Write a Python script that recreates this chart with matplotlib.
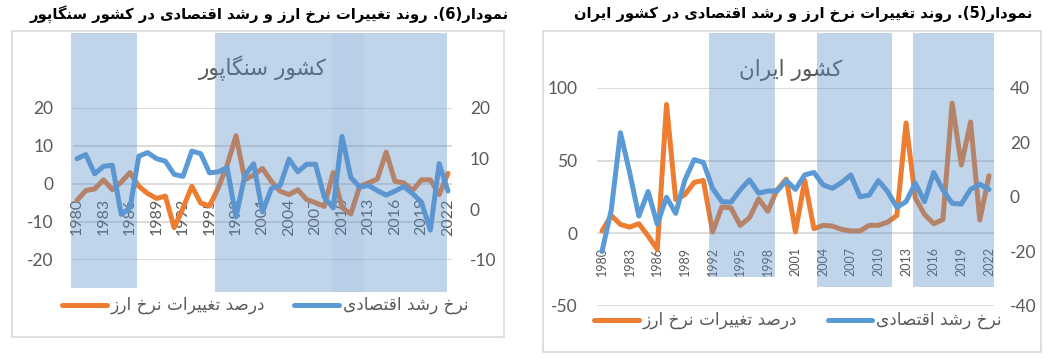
import re
import matplotlib
matplotlib.use('Agg')
import matplotlib.pyplot as plt
from matplotlib.patches import Rectangle
from matplotlib.lines import Line2D
import matplotlib.transforms as mtransforms

# ---------------- data ----------------
years = list(range(1980, 2023))
tick_years = years[::3]

sg_fx = [-4.3, -1.7, -1.3, 1.1, -1.5, 0.5, 3.0, -0.6, -2.5, -3.8, -3.2, -11.5, -6.3, -0.6,
         -5.0, -5.8, -1.0, 5.0, 12.7, 1.1, 2.4,
         4.1, 0.7, -1.9, -2.8, -1.5, -4.1, -4.9, -5.9, 3.0, -6.2, -7.9, -0.6, 0.3, 1.3,
         8.4, 0.7, 0.3, -1.7, 1.1, 1.1, -2.8, 2.8]
sg_gdp = [10.0, 10.8, 7.0, 8.5, 8.7, -1.0, 0.3, 10.5, 11.2, 10.0, 9.5, 6.9, 6.5, 11.5,
          11.0, 7.2, 7.4, 8.2, -1.5, 6.7, 9.0,
          -0.5, 4.1, 4.7, 9.9, 7.4, 8.9, 8.9, 2.4, 0.3, 14.4, 6.3, 4.4, 4.7, 3.7, 2.8,
          3.6, 4.5, 3.1, 1.4, -4.1, 9.0, 3.6]

ir_fx = [1.6, 12.3, 6.1, 4.3, 6.6, -1.8, -11.0, 88.7, 23.2, 26.6, 35.0, 36.4, 0.9, 18.2,
         17.5, 5.5, 10.7, 23.7, 15.2, 30.0, 37.3,
         1.0, 36.4, 3.2, 5.5, 5.0, 2.7, 1.6, 1.6, 5.5, 5.5, 7.7, 12.3, 75.9, 24.3, 13.0,
         6.6, 9.5, 89.6, 47.0, 76.6, 9.1, 39.6]
ir_gdp = [-20.0, -4.8, 23.6, 9.0, -7.0, 2.0, -10.0, -0.1, -6.0, 6.3, 13.7, 12.7, 3.2, -1.7,
          -1.9, 2.6, 6.3, 1.4, 2.2, 2.2, 6.0,
          2.8, 8.1, 9.0, 4.4, 3.2, 5.3, 8.1, 0.1, 0.7, 6.0, 2.0, -3.8, -1.7, 5.1, -1.7,
          9.0, 2.6, -2.3, -2.6, 2.8, 4.7, 2.8]

sg_left_ticks = [-20, -10, 0, 10, 20]
sg_right_ticks = [-10, 0, 10, 20]
ir_left_ticks = [-50, 0, 50, 100]
ir_right_ticks = [-40, -20, 0, 20, 40]

# highlighted periods (year ranges)
sg_spans = [(1979.3, 1986.8), (1995.6, 2021.9), (2008.9, 2012.5)]
ir_spans = [(1991.6, 1998.8), (2003.3, 2011.5), (2013.8, 2022.5)]

title_sg = "نمودار(6). روند تغییرات نرخ ارز و رشد اقتصادی در کشور سنگاپور"
title_ir = "نمودار(5). روند تغییرات نرخ ارز و رشد اقتصادی در کشور ایران"
inner_sg = "کشور سنگاپور"
inner_ir = "کشور ایران"
leg_fx = "درصد تغییرات نرخ ارز"
leg_gdp = "نرخ رشد اقتصادی"

# ---------------- Persian shaping ----------------
def _f(a, b=None, c=None, d=None):
    return tuple(chr(x) if x else None for x in (a, b, c, d))

FORMS = {
    'ا': _f(0xFE8D, 0xFE8E), 'د': _f(0xFEA9, 0xFEAA), 'ر': _f(0xFEAD, 0xFEAE),
    'ز': _f(0xFEAF, 0xFEB0), 'و': _f(0xFEED, 0xFEEE),
    'ن': _f(0xFEE5, 0xFEE6, 0xFEE7, 0xFEE8), 'م': _f(0xFEE1, 0xFEE2, 0xFEE3, 0xFEE4),
    'ت': _f(0xFE95, 0xFE96, 0xFE97, 0xFE98), 'غ': _f(0xFECD, 0xFECE, 0xFECF, 0xFED0),
    'خ': _f(0xFEA5, 0xFEA6, 0xFEA7, 0xFEA8), 'ش': _f(0xFEB5, 0xFEB6, 0xFEB7, 0xFEB8),
    'ق': _f(0xFED5, 0xFED6, 0xFED7, 0xFED8), 'ص': _f(0xFEB9, 0xFEBA, 0xFEBB, 0xFEBC),
    'س': _f(0xFEB1, 0xFEB2, 0xFEB3, 0xFEB4), 'ی': _f(0xFBFC, 0xFBFD, 0xFBFE, 0xFBFF),
    'ک': _f(0xFB8E, 0xFB8F, 0xFB90, 0xFB91), 'گ': _f(0xFB92, 0xFB93, 0xFB94, 0xFB95),
    'پ': _f(0xFB56, 0xFB57, 0xFB58, 0xFB59),
}
RIGHT_ONLY = set('ادذرزژو')


def fa(text):
    out = []
    for i, c in enumerate(text):
        if c not in FORMS:
            out.append(c)
            continue
        prev = text[i - 1] if i > 0 else None
        nxt = text[i + 1] if i + 1 < len(text) else None
        jp = prev in FORMS and prev not in RIGHT_ONLY
        jn = (c not in RIGHT_ONLY) and (nxt in FORMS)
        iso, fin, ini, med = FORMS[c]
        if jp and jn:
            out.append(med)
        elif jp:
            out.append(fin)
        elif jn:
            out.append(ini)
        else:
            out.append(iso)
    s = ''.join(out)[::-1]
    s = s.translate(str.maketrans('()', ')('))
    s = re.sub(r'[0-9]+', lambda m: m.group(0)[::-1], s)
    return s

# ---------------- figure ----------------
W, H = 1055, 363
fig = plt.figure(figsize=(W / 100, H / 100), dpi=100)
fig.patch.set_facecolor('white')

ORANGE = '#ED7D31'
BLUE = '#5B9BD5'
GRID = '#D9D9D9'
TXT = '#595959'
SHADE = '#5B8FC9'
LW = 3.6
NUMFONT = 'Lato'
FAFONT = 'DejaVu Sans'


def fy(py):
    return 1 - py / H


def chart(box, plot, fx, gdp, lticks, rticks, llim, rlim, spans, span_y, span_alpha,
          xtick_size, title, title_cx, inner, inner_xy, leg_y, leg_pos, lpad, rpad):
    # frame
    x0, y0, x1, y1 = box
    fig.add_artist(Rectangle((x0 / W, fy(y1)), (x1 - x0) / W, (y1 - y0) / H,
                             transform=fig.transFigure, fill=False,
                             edgecolor=GRID, lw=1.2, zorder=0))
    px0, py0, px1, py1 = plot
    ax = fig.add_axes([px0 / W, fy(py1), (px1 - px0) / W, (py1 - py0) / H])
    ax.set_facecolor('none')
    for s in ax.spines.values():
        s.set_visible(False)
    ax.plot(years, fx, color=ORANGE, lw=LW, solid_joinstyle='round',
            solid_capstyle='round', zorder=3)
    ax.set_ylim(*llim)
    ax.set_xlim(years[0] - 0.5, years[-1] + 0.5)
    ax.set_yticks(lticks)
    ax.set_yticklabels([str(t) for t in lticks], fontsize=12.5, color=TXT,
                       family=NUMFONT)
    ax.tick_params(axis='y', length=0, pad=lpad)
    ax.set_xticks([])
    ax.yaxis.grid(True, color=GRID, lw=1.3, zorder=0)
    ax.set_axisbelow(True)
    off = mtransforms.offset_copy(ax.transData, fig=fig, x=0, y=-14, units='dots')
    for yv in tick_years:
        ax.text(yv, 0, str(yv), rotation=90, ha='center', va='top', transform=off,
                fontsize=xtick_size, color=TXT, family=NUMFONT, zorder=2)
    ax.text(inner_xy[0], inner_xy[1], fa(inner), transform=fig.transFigure,
            ha='center', va='center', fontsize=15.5, color=TXT, family=FAFONT)

    ax2 = ax.twinx()
    ax2.set_facecolor('none')
    for s in ax2.spines.values():
        s.set_visible(False)
    ax2.plot(years, gdp, color=BLUE, lw=LW, solid_joinstyle='round',
             solid_capstyle='round', zorder=3)
    ax2.set_ylim(*rlim)
    ax2.set_yticks(rticks)
    ax2.set_yticklabels([str(t) for t in rticks], fontsize=12.5, color=TXT,
                        family=NUMFONT)
    ax2.tick_params(axis='y', length=0, pad=rpad)
    trans = mtransforms.blended_transform_factory(ax2.transData, ax2.transAxes)
    for (a, b), (ya, yb), al in zip(spans, span_y, span_alpha):
        ax2.add_patch(Rectangle((a, ya), b - a, yb - ya, transform=trans,
                                facecolor=SHADE, alpha=al, lw=0,
                                clip_on=False, zorder=10))
    ax2.set_xlim(years[0] - 0.5, years[-1] + 0.5)

    # title
    fig.text(title_cx / W, fy(14), fa(title), ha='center', va='center',
             fontsize=10.6, fontweight='bold', color='black', family=FAFONT)

    # legend
    (ox0, ox1, otx), (bx0, bx1, btx) = leg_pos
    fig.add_artist(Line2D([ox0 / W, ox1 / W], [fy(leg_y)] * 2, color=ORANGE, lw=LW,
                          solid_capstyle='round', transform=fig.transFigure))
    fig.text(otx / W, fy(leg_y), fa(leg_fx), ha='left', va='center', fontsize=12.2,
             color=TXT, family=FAFONT)
    fig.add_artist(Line2D([bx0 / W, bx1 / W], [fy(leg_y)] * 2, color=BLUE, lw=LW,
                          solid_capstyle='round', transform=fig.transFigure))
    fig.text(btx / W, fy(leg_y), fa(leg_gdp), ha='left', va='center', fontsize=12.2,
             color=TXT, family=FAFONT)


# Singapore (left)
sg_span_y = [(-0.184, 1.493), (-0.21, 1.493), (-0.21, 1.493)]
chart(box=(12, 31, 504, 337), plot=(72.6, 108, 452.4, 260),
      fx=sg_fx, gdp=sg_gdp, lticks=sg_left_ticks, rticks=sg_right_ticks,
      llim=(-20, 20), rlim=(-10, 20), spans=sg_spans, span_y=sg_span_y,
      span_alpha=[0.38, 0.38, 0.07],
      xtick_size=11.5, title=title_sg, title_cx=269, inner=inner_sg,
      inner_xy=(263 / W, fy(68)), leg_y=305,
      leg_pos=((62, 107, 111), (294, 339, 343)), lpad=14, rpad=12.5)

# Iran (right)
ir_span_y = [(0.133, 1.252), (0.087, 1.252), (0.087, 1.252)]
chart(box=(543, 31, 1041, 352), plot=(597.4, 88, 993.6, 306),
      fx=ir_fx, gdp=ir_gdp, lticks=ir_left_ticks, rticks=ir_right_ticks,
      llim=(-50, 100), rlim=(-40, 40), spans=ir_spans, span_y=ir_span_y,
      span_alpha=[0.38, 0.38, 0.38],
      xtick_size=9, title=title_ir, title_cx=803, inner=inner_ir,
      inner_xy=(791 / W, fy(70)), leg_y=320,
      leg_pos=((594, 639, 643), (828, 872, 876)), lpad=14.5, rpad=11.8)

fig.savefig('out.png', dpi=100, facecolor='white')
